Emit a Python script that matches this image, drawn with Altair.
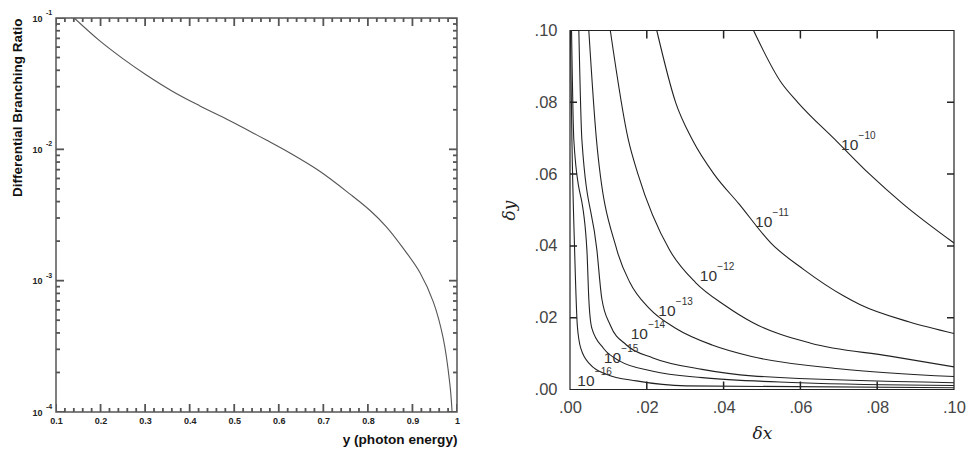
import altair as alt
import pandas as pd

# ---------------- Left panel: differential branching ratio ----------------
photon_y = [0.141, 0.197, 0.250, 0.302, 0.362, 0.422, 0.489, 0.535, 0.571, 0.625, 0.692,
            0.760, 0.805, 0.842, 0.879, 0.917, 0.947, 0.969, 0.984, 0.989]
diff_br = [0.100, 0.0676, 0.0491, 0.0370, 0.0276, 0.0215, 0.0166, 0.01373, 0.01182, 0.00938,
           0.00681, 0.00456, 0.00342, 0.00256, 0.00177, 0.00115, 0.000686, 0.000365,
           0.000163, 0.000100]

left_x_major = [0.1, 0.2, 0.3, 0.4, 0.5, 0.6, 0.7, 0.8, 0.9, 1.0]
left_x_minor = [round(0.1 + 0.02 * i, 2) for i in range(46) if i % 5 != 0]
left_y_major = [1e-4, 1e-3, 1e-2, 1e-1]
left_y_exp = ["-4", "-3", "-2", "-1"]
left_y_minor = [m * 10.0 ** e for e in (-4, -3, -2) for m in range(2, 10)]

# ---------------- Right panel: contours in (dx, dy) ----------------
contour_labels = ["-10", "-11", "-12", "-13", "-14", "-15", "-16"]
c10_dx = [0.0478, 0.0550, 0.0593, 0.0696, 0.0781, 0.0867, 0.1000]
c10_dy = [0.1000, 0.0855, 0.0800, 0.0690, 0.0599, 0.0517, 0.0408]
c11_dx = [0.0226, 0.0275, 0.0319, 0.0375, 0.0440, 0.0524, 0.0609, 0.0712, 0.0756, 0.0884, 0.1000]
c11_dy = [0.1000, 0.0800, 0.0695, 0.0600, 0.0517, 0.0407, 0.0334, 0.0261, 0.0236, 0.0188, 0.0156]
c12_dx = [0.0105, 0.0152, 0.0177, 0.0259, 0.0327, 0.0404, 0.0473, 0.0627, 0.0833, 0.1000]
c12_dy = [0.1000, 0.0695, 0.0600, 0.0389, 0.0298, 0.0234, 0.0188, 0.0129, 0.0093, 0.0063]
c13_dx = [0.0049, 0.0069, 0.0122, 0.0156, 0.0207, 0.0276, 0.0370, 0.0473, 0.0700, 0.1000]
c13_dy = [0.1000, 0.0695, 0.0389, 0.0298, 0.0225, 0.0170, 0.0124, 0.0092, 0.0058, 0.0036]
c14_dx = [0.0023, 0.0031, 0.0070, 0.0083, 0.0105, 0.0147, 0.0216, 0.0344, 0.0473, 0.1000]
c14_dy = [0.1000, 0.0695, 0.0389, 0.0252, 0.0179, 0.0124, 0.0088, 0.0056, 0.0038, 0.0019]
c15_dx = [0.0004, 0.0010, 0.0044, 0.0049, 0.0057, 0.0087, 0.0130, 0.0216, 0.0344, 0.0600, 0.1000]
c15_dy = [0.1000, 0.0695, 0.0389, 0.0252, 0.0170, 0.0115, 0.0079, 0.0051, 0.0033, 0.0019, 0.0011]
c16_dx = [0.0001, 0.0005, 0.0012, 0.0019, 0.0028, 0.0053, 0.0096, 0.0173, 0.0302, 0.1000]
c16_dy = [0.1000, 0.0695, 0.0389, 0.0179, 0.0115, 0.0069, 0.0042, 0.0024, 0.0010, 0.0005]

label_dx = [0.0706, 0.0482, 0.0338, 0.0230, 0.0158, 0.0088, 0.0019]
label_dy = [0.0668, 0.0453, 0.0301, 0.0205, 0.0140, 0.0074, 0.0011]

right_ticks = [0.02, 0.04, 0.06, 0.08]
right_axis_vals = [0.0, 0.02, 0.04, 0.06, 0.08, 0.10]

# ---------------- build tables ----------------
df_curve = pd.DataFrame({"x": photon_y, "v": diff_br})

rows = []
for lab, dxs, dys in zip(contour_labels,
                         [c10_dx, c11_dx, c12_dx, c13_dx, c14_dx, c15_dx, c16_dx],
                         [c10_dy, c11_dy, c12_dy, c13_dy, c14_dy, c15_dy, c16_dy]):
    for i, (a, b) in enumerate(zip(dxs, dys)):
        rows.append({"c": lab, "i": i, "dx": a, "dy": b})
df_cont = pd.DataFrame(rows)
df_lab = pd.DataFrame({"dx": label_dx, "dy": label_dy,
                       "e": ["\u2212" + s[1:] for s in contour_labels]})

# ---------------- left chart ----------------
W1, H1 = 401, 394
FB = "Liberation Sans"
AX = "#555"
xs1 = alt.Scale(domain=[0.1, 1.0], nice=False, zero=False)
ys1 = alt.Scale(type="log", domain=[1e-4, 1e-1], nice=False)

x_axis1 = alt.Axis(values=left_x_major,
                   labelExpr="datum.value == 1 ? '1' : format(datum.value, '.1f')",
                   ticks=False, domain=False, grid=False, labelFont=FB, labelFontWeight="bold",
                   labelFontSize=9, labelColor="#222", labelPadding=4, labelFlush=False,
                   title="y (photon energy)", titleFont=FB, titleFontWeight="bold",
                   titleFontSize=13.6, titleColor="#111", titleAnchor="end", titlePadding=7)
y_axis1 = alt.Axis(values=left_y_major, labelExpr="'10'",
                   ticks=False, domain=False, grid=False, labelFont=FB, labelFontWeight="bold",
                   labelFontSize=9, labelColor="#222", labelPadding=14, labelOverlap=False,
                   title="Differential Branching Ratio", titleFont=FB, titleFontWeight="bold",
                   titleFontSize=13.5, titleColor="#111", titleAnchor="end", titlePadding=7)

X1 = lambda f: alt.X(f, type="quantitative", scale=xs1, axis=x_axis1)
Y1 = lambda f: alt.Y(f, type="quantitative", scale=ys1, axis=y_axis1)

curve = alt.Chart(df_curve).mark_line(color="#555", strokeWidth=1.1, interpolate="catmull-rom", clip=True).encode(
    x=X1("x"), y=Y1("v"))

DEC = H1 / 3.0
f8, f4 = 10 ** (8 / DEC), 10 ** (4 / DEC)
g8, g4 = 8 * 0.9 / W1, 4 * 0.9 / W1

# inward tick segments on all four sides of the left frame
lt_rows = []
k = 0
for vals, f in ((left_x_major, f8), (left_x_minor, f4)):
    for xv in vals:
        lt_rows += [{"t": k, "x": xv, "v": 1e-4}, {"t": k, "x": xv, "v": 1e-4 * f}]
        lt_rows += [{"t": k + 1, "x": xv, "v": 0.1}, {"t": k + 1, "x": xv, "v": 0.1 / f}]
        k += 2
for vals, g in ((left_y_major, g8), (left_y_minor, g4)):
    for yv in vals:
        lt_rows += [{"t": k, "x": 0.1, "v": yv}, {"t": k, "x": 0.1 + g, "v": yv}]
        lt_rows += [{"t": k + 1, "x": 1.0 - g, "v": yv}, {"t": k + 1, "x": 1.0, "v": yv}]
        k += 2
df_lt = pd.DataFrame(lt_rows)
lticks = alt.Chart(df_lt).mark_line(color=AX, strokeWidth=1.8, clip=True).encode(
    x=X1("x"), y=Y1("v"), detail="t:N")

yexp = alt.Chart(pd.DataFrame({"v": left_y_major, "e": left_y_exp})).mark_text(
    align="left", baseline="middle", font=FB, fontWeight="bold", fontSize=7, color="#222", dy=-5).encode(
    y=Y1("v"), x=alt.value(-10), text="e:N")

left = alt.layer(curve, lticks, yexp).properties(
    width=W1, height=H1, view=alt.ViewBackground(stroke=AX, strokeWidth=1.5))

# ---------------- right chart ----------------
W2, HR, RTOP = 384, 371.5, 12.5
FN = "Liberation Sans"
xs2 = alt.Scale(domain=[0, 0.1], nice=False, zero=False)
ys2 = alt.Scale(domain=[0, 0.1], nice=False, zero=False, range=[HR, RTOP])
lab_expr = "replace(format(datum.value, '.2f'), '0.', '.')"
x_axis2 = alt.Axis(values=right_axis_vals, labelExpr=lab_expr, ticks=False, domain=False, grid=False,
                   labelFont=FN, labelFontSize=16.5, labelColor="#444", labelPadding=10, labelFlush=False,
                   title="\u03b4x", titleFont="DejaVu Serif", titleFontStyle="italic", titleFontWeight="normal",
                   titleFontSize=17, titleColor="#222", titlePadding=9)
y_axis2 = alt.Axis(values=right_axis_vals, labelExpr=lab_expr, ticks=False, domain=False, grid=False,
                   labelFont=FN, labelFontSize=16.5, labelColor="#444", labelPadding=13, labelFlush=False,
                   title="\u03b4y", titleFont="DejaVu Serif", titleFontStyle="italic", titleFontWeight="normal",
                   titleFontSize=17, titleColor="#222", titlePadding=16)
X2 = lambda f: alt.X(f, type="quantitative", scale=xs2, axis=x_axis2)
Y2 = lambda f: alt.Y(f, type="quantitative", scale=ys2, axis=y_axis2)

frame = alt.Chart(pd.DataFrame({"dx": [0.0], "dy": [0.0]})).mark_rect(
    fillOpacity=0, stroke="#222", strokeWidth=1.2).encode(
    x=X2("dx"), x2=alt.X2(datum=0.1), y=Y2("dy"), y2=alt.Y2(datum=0.1))

lines = alt.Chart(df_cont).mark_line(color="#222", strokeWidth=1.1, interpolate="monotone", clip=True).encode(
    x=X2("dx"), y=Y2("dy"), detail="c:N", order="i:Q")
base_txt = alt.Chart(df_lab).mark_text(align="left", baseline="alphabetic", font=FN,
                                      fontSize=15.5, color="#333").encode(
    x=X2("dx"), y=Y2("dy"), text=alt.value("10"))
exp_txt = alt.Chart(df_lab).mark_text(align="left", baseline="alphabetic", font=FN,
                                     fontSize=10, color="#333", dx=17.5, dy=-11).encode(
    x=X2("dx"), y=Y2("dy"), text="e:N")

tky = 8 * 0.1 / (HR - RTOP)
tkx = 7 * 0.1 / W2
rt_rows = []
k = 0
for tv in right_ticks:
    rt_rows += [{"t": k, "dx": tv, "dy": 0.0}, {"t": k, "dx": tv, "dy": tky}]
    rt_rows += [{"t": k + 1, "dx": tv, "dy": 0.1}, {"t": k + 1, "dx": tv, "dy": 0.1 - tky}]
    rt_rows += [{"t": k + 2, "dx": 0.0, "dy": tv}, {"t": k + 2, "dx": tkx, "dy": tv}]
    rt_rows += [{"t": k + 3, "dx": 0.1 - tkx, "dy": tv}, {"t": k + 3, "dx": 0.1, "dy": tv}]
    k += 4
df_rt = pd.DataFrame(rt_rows)
rticks = alt.Chart(df_rt).mark_line(color="#222", strokeWidth=1.5, clip=True).encode(
    x=X2("dx"), y=Y2("dy"), detail="t:N")

right = alt.layer(frame, lines, base_txt, exp_txt, rticks).properties(
    width=W2, height=HR, view=alt.ViewBackground(strokeOpacity=0))

chart = alt.hconcat(left, right, spacing=39).properties(
    padding={"left": 2, "top": 0, "right": 0, "bottom": 0}
).configure(background="white")

chart.save("out.html", embed_options={"renderer": "svg", "actions": False})
